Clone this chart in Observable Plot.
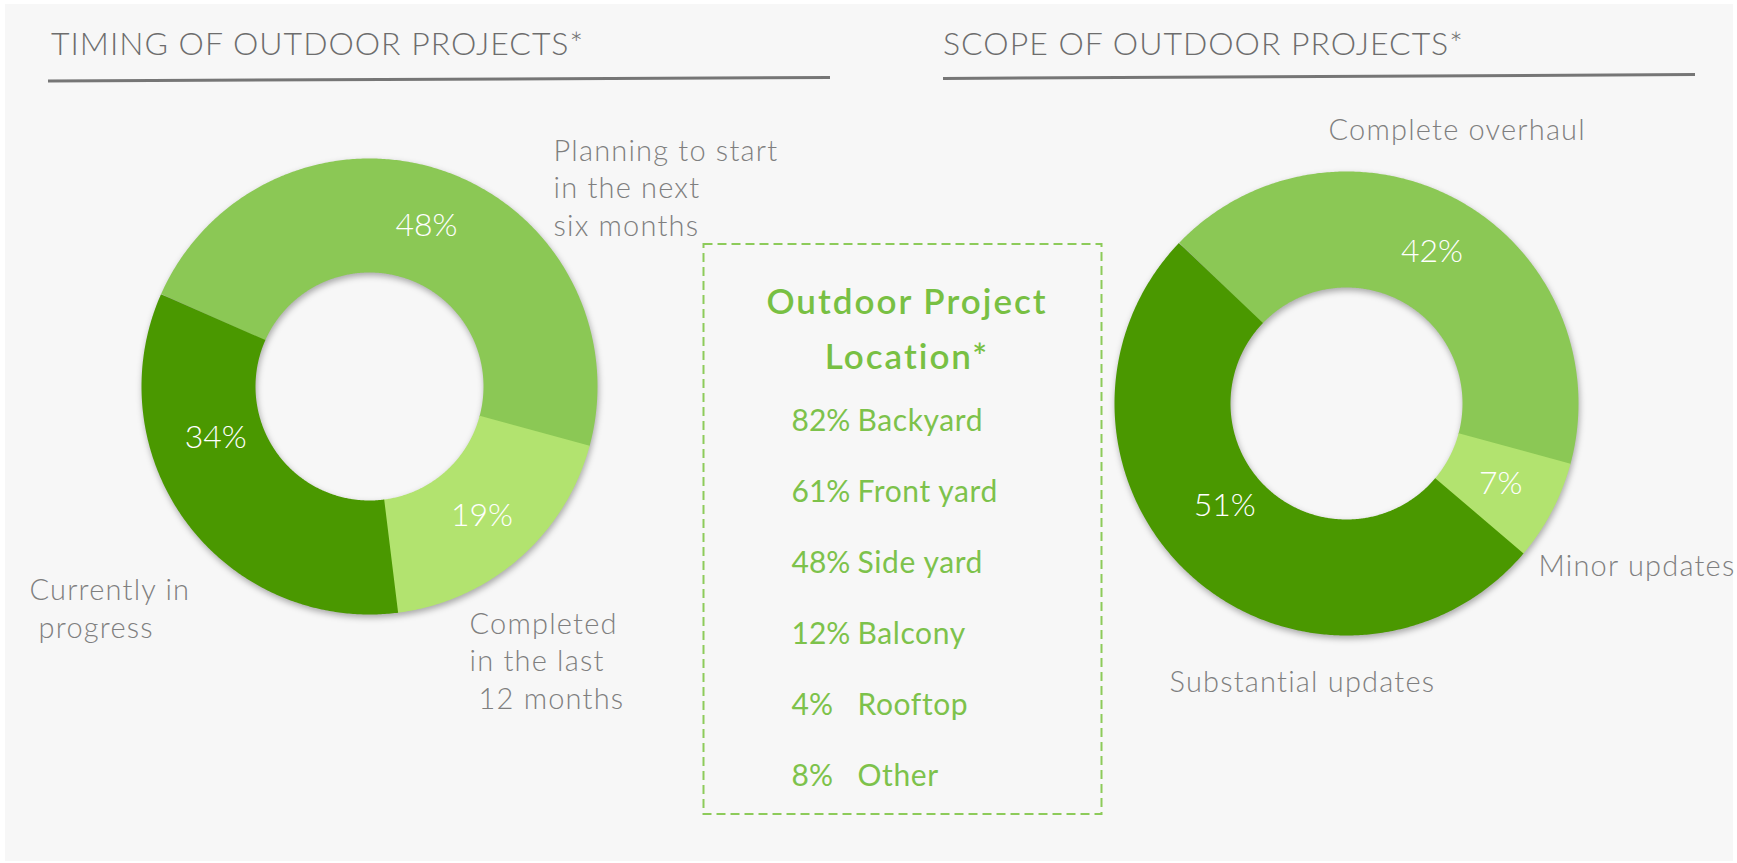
<!DOCTYPE html>
<html>
<head>
<meta charset="utf-8">
<script src="https://cdn.jsdelivr.net/npm/d3@7"></script>
<script src="https://cdn.jsdelivr.net/npm/@observablehq/plot@0.6"></script>
<style>
  html, body { margin: 0; padding: 0; background: #ffffff; }
  body { width: 1737px; height: 863px; position: relative; overflow: hidden; font-family: Lato, "Open Sans", sans-serif; }
  #panel { position: absolute; left: 5px; top: 4px; width: 1728px; height: 857px; background: #f7f7f7; }
  .layer { position: absolute; left: 0; top: 0; }
  #list { position: absolute; left: 703px; top: 380px; }
  svg text { white-space: pre; }
  #main g[aria-label="line"] { filter: drop-shadow(1px 3px 3px rgba(0,0,0,0.32)); }
  #main svg > g:last-of-type text { letter-spacing: 1.2px; }
  #list svg > g:last-of-type text { letter-spacing: 0.6px; }
  #deco .title { letter-spacing: 1px; }
  #deco .head { letter-spacing: 2px; }
</style>
</head>
<body>
<div id="panel"></div>
<div id="main" class="layer"></div>
<div id="deco" class="layer"></div>
<div id="list"></div>
<script>
// ---------- data ----------
const timingCategories = ["Planning to start\nin the next\nsix months", "Completed\nin the last\n 12 months", "Currently in\n progress"];
const timingValues = [48, 19, 34];

const scopeCategories = ["Complete overhaul", "Minor updates", "Substantial updates"];
const scopeValues = [42, 7, 51];

const locationNames = ["Backyard", "Front yard", "Side yard", "Balcony", "Rooftop", "Other"];
const locationValues = [82, 61, 48, 12, 4, 8];

// ---------- layout / style ----------
const shades = ["#8BC855", "#B2E36F", "#4A9800"];
const W = 1737, H = 863;
const donuts = [
  {id: "timing", cats: timingCategories, values: timingValues, cx: 369, cy: 386, R: 228, r: 114, end0: 105,
   labelAt: [null, null, {angle: 251.6, radius: 162}],
   catPos: [{x: 553, y: 235}, {x: 469, y: 708}, {x: 29, y: 637}]},
  {id: "scope", cats: scopeCategories, values: scopeValues, cx: 1346, cy: 403, R: 232, r: 116, end0: 105,
   labelAt: [null, null, {angle: 230, radius: 159}],
   catPos: [{x: 1328, y: 139}, {x: 1538, y: 575}, {x: 1169, y: 691}]}
];

const rad = Math.PI / 180;
const ringMarks = [], pctLabels = [], catLabels = [];
for (const d of donuts) {
  const total = d3.sum(d.values);
  const start = (d.end0 - 360 * d.values[0] / total) * rad;
  const arcs = d3.pie().sort(null).startAngle(start).endAngle(start + 2 * Math.PI)(d.values);
  const mid = (d.R + d.r) / 2;
  const pts = [];
  arcs.forEach((a, i) => {
    const a0 = a.startAngle;
    const a1 = a.endAngle + (i < arcs.length - 1 ? 0.3 * rad : 0);
    const n = Math.max(2, Math.ceil((a1 - a0) / (0.5 * rad)));
    for (let k = 0; k <= n; k++) {
      const t = a0 + (a1 - a0) * k / n;
      pts.push({slice: d.id + i, color: shades[i], x: d.cx + mid * Math.sin(t), y: d.cy - mid * Math.cos(t)});
    }
    const la = d.labelAt[i];
    const t = la ? la.angle * rad : (a.startAngle + a.endAngle) / 2;
    const rr = la ? la.radius : mid;
    pctLabels.push({text: `${d.values[i]}%`, x: d.cx + rr * Math.sin(t), y: d.cy - rr * Math.cos(t)});
    catLabels.push({text: d.cats[i], x: d.catPos[i].x, y: d.catPos[i].y});
  });
  ringMarks.push(Plot.line(pts, {
    x: "x", y: "y", z: "slice", stroke: "color",
    strokeWidth: d.R - d.r, strokeLinecap: "butt", strokeLinejoin: "round", curve: "linear"
  }));
}

const main = Plot.plot({
  width: W, height: H, margin: 0,
  x: {domain: [0, W], range: [0, W], axis: null},
  y: {domain: [0, H], range: [0, H], axis: null},
  color: {type: "identity"},
  style: {background: "transparent", fontFamily: "Lato, 'Open Sans', sans-serif", overflow: "visible"},
  marks: [
    ...ringMarks,
    Plot.text(pctLabels, {x: "x", y: "y", text: "text", fill: "#ffffff", fontSize: 32, fontWeight: 300,
      textAnchor: "middle", lineAnchor: "middle"}),
    Plot.text(catLabels, {x: "x", y: "y", text: "text", fill: "#7f7f7f", fontSize: 29, fontWeight: 300,
      textAnchor: "start", lineAnchor: "bottom", lineHeight: 1.28})
  ]
});
document.getElementById("main").appendChild(main);

// ---------- decorations: titles, rules, dashed box ----------
const svg = d3.select("#deco").append("svg").attr("width", W).attr("height", H)
  .style("font-family", "Lato, 'Open Sans', sans-serif");
const titles = [
  {text: "TIMING OF OUTDOOR PROJECTS*", x: 51, y: 55, x1: 48, y1: 81, x2: 830, y2: 77.5},
  {text: "SCOPE OF OUTDOOR PROJECTS*", x: 943, y: 55, x1: 943, y1: 78.5, x2: 1695, y2: 74.5}
];
for (const t of titles) {
  svg.append("text").attr("class", "title").attr("x", t.x).attr("y", t.y).attr("fill", "#6d6d6d")
    .attr("font-size", 32).attr("font-weight", 300).text(t.text);
  svg.append("line").attr("x1", t.x1).attr("y1", t.y1).attr("x2", t.x2).attr("y2", t.y2)
    .attr("stroke", "#767676").attr("stroke-width", 3);
}
svg.append("rect").attr("x", 703.5).attr("y", 244).attr("width", 398).attr("height", 570)
  .attr("fill", "none").attr("stroke", "#8DCB5A").attr("stroke-width", 2).attr("stroke-dasharray", "9 5");
const head = svg.append("text").attr("class", "head").attr("text-anchor", "middle").attr("fill", "#78C043")
  .attr("font-size", 35).attr("font-weight", 600);
head.append("tspan").attr("x", 907).attr("y", 314).text("Outdoor Project");
head.append("tspan").attr("x", 907).attr("y", 368.5).text("Location*");

// ---------- location list ----------
const rows = locationNames.map((name, i) => ({name, value: locationValues[i]}));
const list = Plot.plot({
  width: 399, height: 440, marginTop: 50, marginBottom: 35, marginLeft: 0, marginRight: 0,
  y: {type: "point", domain: locationNames, padding: 0, axis: null},
  style: {background: "transparent", fontFamily: "Lato, 'Open Sans', sans-serif", overflow: "visible"},
  marks: [
    Plot.text(rows, {y: "name", text: d => `${d.value}%`, frameAnchor: "left", dx: 88,
      textAnchor: "start", lineAnchor: "bottom", fill: "#7DC24B", fontSize: 30}),
    Plot.text(rows, {y: "name", text: "name", frameAnchor: "left", dx: 154,
      textAnchor: "start", lineAnchor: "bottom", fill: "#7DC24B", fontSize: 30})
  ]
});
document.getElementById("list").appendChild(list);
</script>
</body>
</html>
